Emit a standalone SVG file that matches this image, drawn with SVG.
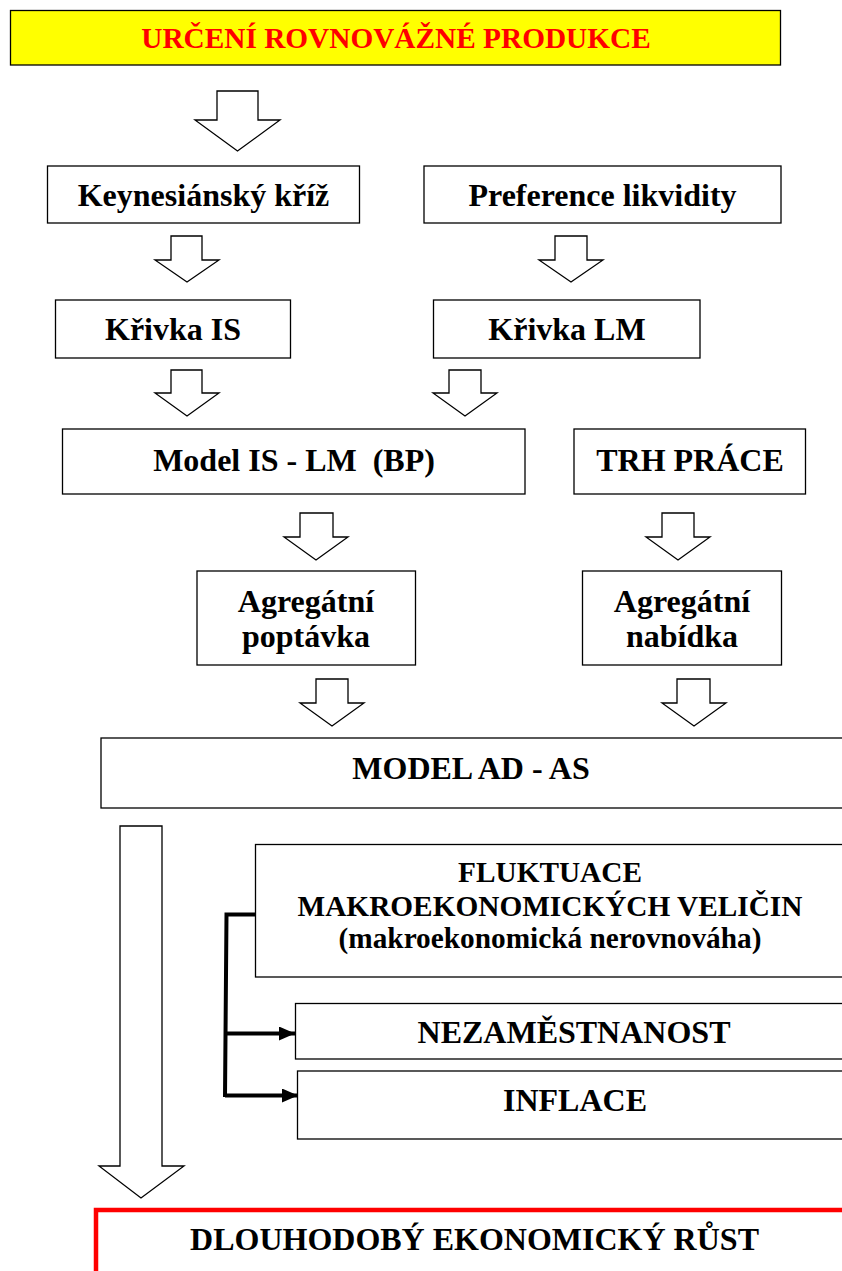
<svg xmlns="http://www.w3.org/2000/svg" width="842" height="1271" viewBox="0 0 842 1271">
<defs>
<style>
.box{fill:#fff;stroke:#000;stroke-width:1.3}
.arr{fill:#fff;stroke:#000;stroke-width:1.3;stroke-linejoin:miter}
.t{font-family:"Liberation Serif","Times New Roman",serif;font-weight:bold;font-size:32px;fill:#000;text-anchor:middle}
.s{font-size:29.3px}
.con{fill:none;stroke:#000;stroke-width:4}
</style>
<marker id="ah" viewBox="0 0 16 14" refX="16" refY="7" markerWidth="16" markerHeight="14" markerUnits="userSpaceOnUse" orient="auto">
<path d="M0 0 L16 7 L0 14 Z" fill="#000"/>
</marker>
</defs>
<rect width="842" height="1271" fill="#fff"/>

<g id="n-title">
<rect x="10.5" y="10.5" width="770" height="54.5" fill="#ffff00" stroke="#000" stroke-width="1.3"/>
<text class="t s" x="396" y="48" fill="#ff0000" style="fill:#ff0000">URČENÍ ROVNOVÁŽNÉ PRODUKCE</text>
</g>

<g id="n-keynes">
<rect class="box" x="47.5" y="166" width="312" height="57"/>
<text class="t" x="203.5" y="205.5">Keynesiánský kříž</text>
</g>
<g id="n-pref">
<rect class="box" x="424" y="166" width="357" height="57"/>
<text class="t" x="602.5" y="205.5">Preference likvidity</text>
</g>
<g id="n-is">
<rect class="box" x="55.5" y="300" width="235" height="58"/>
<text class="t" x="173" y="340">Křivka IS</text>
</g>
<g id="n-lm">
<rect class="box" x="433.5" y="300" width="266.5" height="58"/>
<text class="t" x="567" y="340">Křivka LM</text>
</g>
<g id="n-islm">
<rect class="box" x="62.5" y="429" width="462.5" height="65"/>
<text class="t" x="294" y="471" xml:space="preserve">Model IS - LM  (BP)</text>
</g>
<g id="n-trh">
<rect class="box" x="574" y="429" width="231.5" height="65"/>
<text class="t" x="690" y="471">TRH PRÁCE</text>
</g>
<g id="n-ad">
<rect class="box" x="197" y="571" width="218.5" height="94"/>
<text class="t" x="306" y="612">Agregátní</text>
<text class="t" x="306" y="647">poptávka</text>
</g>
<g id="n-as">
<rect class="box" x="582.5" y="571" width="199" height="94"/>
<text class="t" x="682" y="612">Agregátní</text>
<text class="t" x="682" y="647">nabídka</text>
</g>
<g id="n-adas">
<rect class="box" x="101" y="738" width="760" height="70"/>
<text class="t" x="471" y="779">MODEL AD - AS</text>
</g>
<g id="n-fluk">
<rect class="box" x="255.5" y="844.5" width="600" height="132.5"/>
<text class="t s" x="550" y="882">FLUKTUACE</text>
<text class="t s" x="550" y="916">MAKROEKONOMICKÝCH VELIČIN</text>
<text class="t s" x="550" y="948">(makroekonomická nerovnováha)</text>
</g>
<g id="n-nezam">
<rect class="box" x="295.5" y="1003.5" width="560" height="55.5"/>
<text class="t" x="574" y="1043">NEZAMĚSTNANOST</text>
</g>
<g id="n-infl">
<rect class="box" x="297.5" y="1071" width="560" height="68"/>
<text class="t" x="575" y="1111">INFLACE</text>
</g>
<g id="n-rust">
<rect x="96" y="1210" width="770" height="80" fill="#fff" stroke="#ff0000" stroke-width="4.5"/>
<text class="t" x="474.5" y="1250">DLOUHODOBÝ EKONOMICKÝ RŮST</text>
</g>

<g id="connectors">
<path class="arr" d="M217 91 H258 V120 H280 L237.5 151 L195 120 H217 Z"/>
<path class="arr" d="M171 236 H202 V260 H219 L187 282 L155 260 H171 Z"/>
<path class="arr" d="M555 236 H587 V260 H603 L571 282 L539 260 H555 Z"/>
<path class="arr" d="M171 370 H202 V393 H219 L187 416 L155 393 H171 Z"/>
<path class="arr" d="M449 370 H481 V393 H497 L465 416 L433 393 H449 Z"/>
<path class="arr" d="M300 513 H333 V537 H348 L316 560 L284 537 H300 Z"/>
<path class="arr" d="M662 513 H694 V537 H710 L678 560 L646 537 H662 Z"/>
<path class="arr" d="M316 679 H348 V703 H364 L332 726 L300 703 H316 Z"/>
<path class="arr" d="M677 679 H710 V703 H726 L694 726 L662 703 H677 Z"/>
<path class="arr" d="M120 826 H162 V1166 H184 L141 1198 L99 1166 H120 Z"/>
<path class="con" d="M255 914.5 H226.5 L225 1097"/>
<line class="con" x1="225" y1="1033.5" x2="295" y2="1033.5" marker-end="url(#ah)"/>
<line class="con" x1="225" y1="1095.5" x2="298" y2="1095.5" marker-end="url(#ah)"/>
</g>
</svg>
